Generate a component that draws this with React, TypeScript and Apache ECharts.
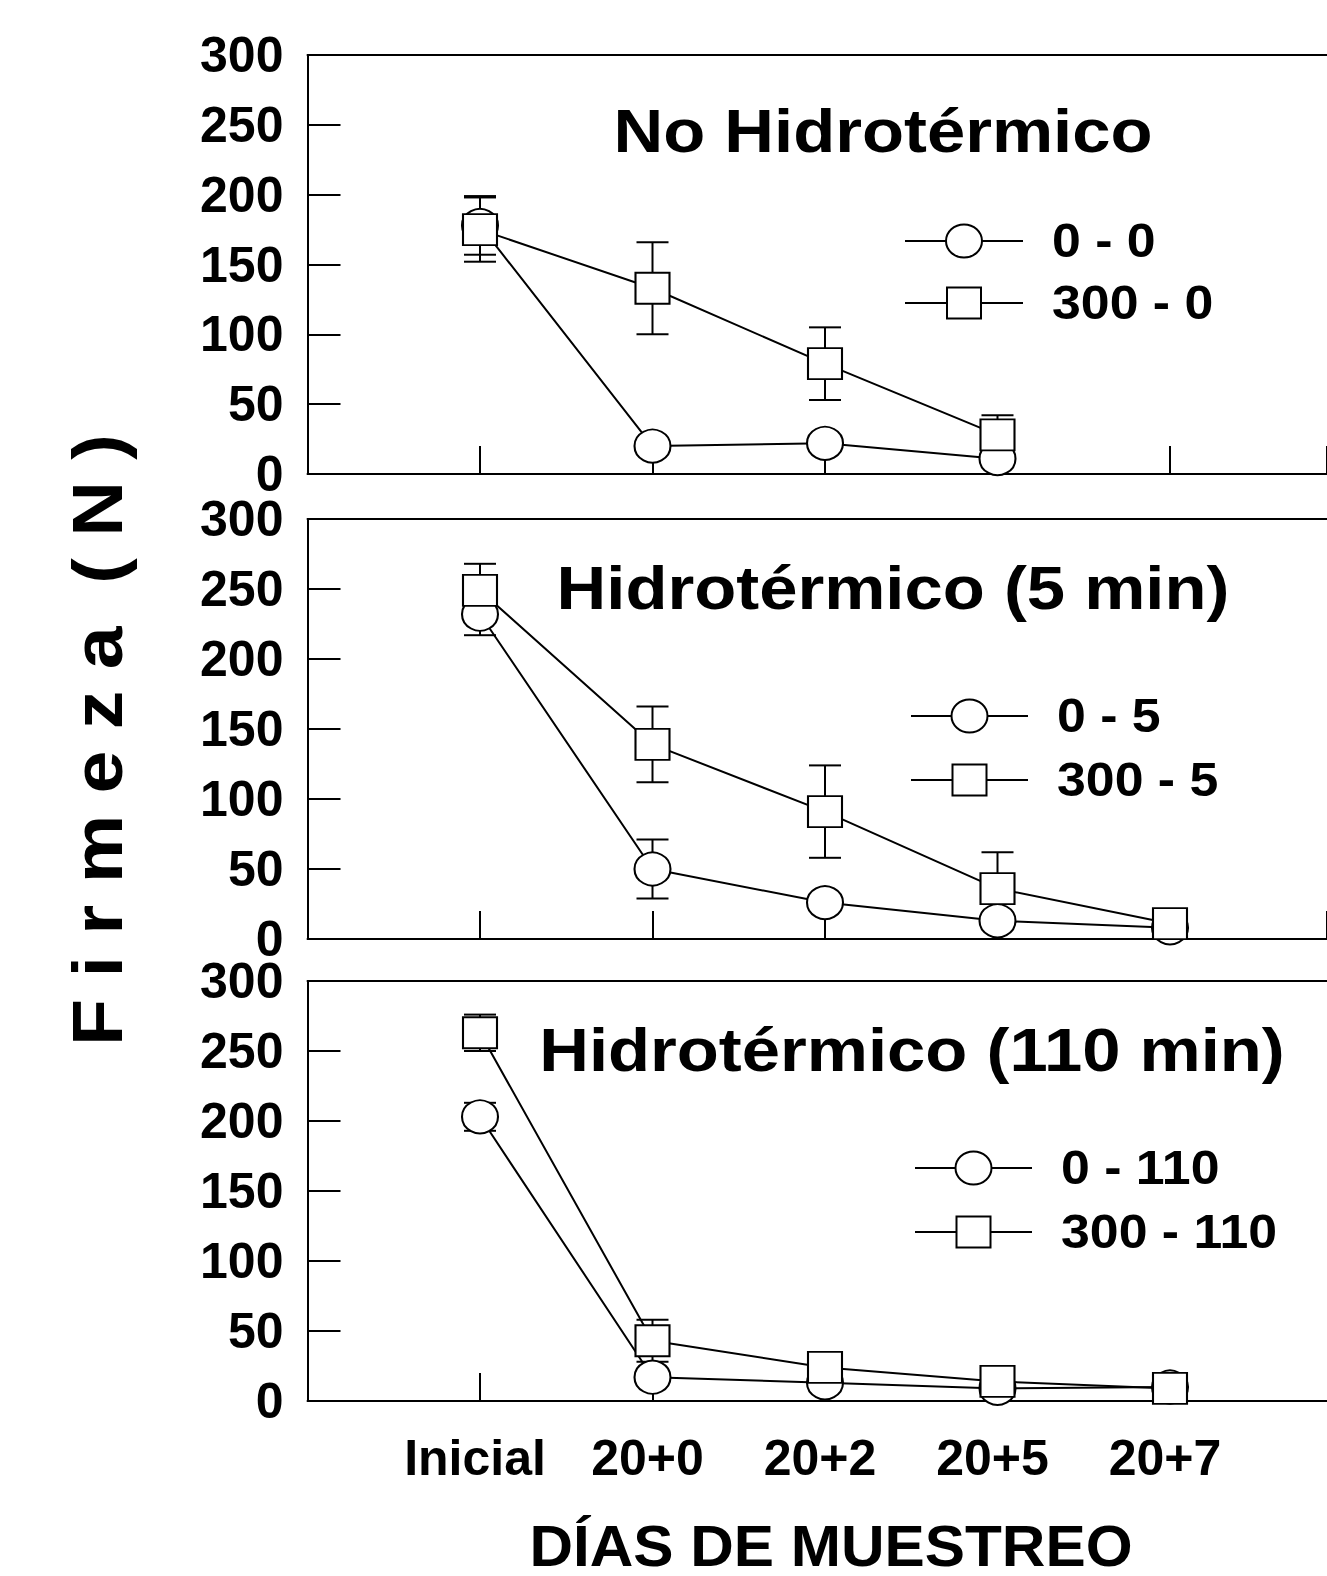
import React, { useEffect, useRef } from "react";
import * as echarts from "echarts";

// ---------- data ----------
const categories = ["Inicial", "20+0", "20+2", "20+5", "20+7"];
const panelTitles = ["No Hidrotérmico", "Hidrotérmico (5 min)", "Hidrotérmico (110 min)"];
const circleNames = ["0 - 0", "0 - 5", "0 - 110"];
const squareNames = ["300 - 0", "300 - 5", "300 - 110"];
const xAxisTitle = "DÍAS DE MUESTREO";
const yAxisTitle = "F i r m e z a  ( N )";
const yMin = 0;
const yMax = 300;
const yStep = 50;

// Panel 1: No Hidrotérmico
const p1Circle = [178, 20, 22, 11, null];
const p1CircleErr = [21, 3, 3, 3, null];
const p1Square = [175, 133, 79, 28, null];
const p1SquareErr = [23, 33, 26, 14, null];

// Panel 2: Hidrotérmico (5 min)
const p2Circle = [232, 50, 26, 13, 8];
const p2CircleErr = [15, 21, 5, 4, 2];
const p2Square = [249, 139, 91, 36, 11];
const p2SquareErr = [19, 27, 33, 26, 3];

// Panel 3: Hidrotérmico (110 min)
const p3Circle = [203, 17, 13, 9, 10];
const p3CircleErr = [10, 3, 3, 2, 2];
const p3Square = [263, 43, 24, 14, 9];
const p3SquareErr = [13, 15, 4, 3, 2];

const circleSeries = [p1Circle, p2Circle, p3Circle];
const circleErrs = [p1CircleErr, p2CircleErr, p3CircleErr];
const squareSeries = [p1Square, p2Square, p3Square];
const squareErrs = [p1SquareErr, p2SquareErr, p3SquareErr];

// ---------- layout / style ----------
const W = 1327;
const H = 1576;
const FONT = "'Liberation Sans', Arial, Helvetica, sans-serif";
const gridLeft = 307.5;
const catSpacing = 172.5;
const xMin = -1;
const xMax = xMin + (W - gridLeft) / catSpacing;
const panelTops = [55, 519, 981];
const panelHeights = [419, 420, 420];
const titlePos = [
  { x: 883, y: 131 },
  { x: 893, y: 588 },
  { x: 912, y: 1050 },
];
const titleScaleX = 1.11;
const legendPos = [
  { x1: 905, x2: 1023, y1: 241, y2: 303, tx: 1052 },
  { x1: 911, x2: 1028, y1: 716, y2: 780, tx: 1057 },
  { x1: 915, x2: 1032, y1: 1168, y2: 1232, tx: 1061 },
];
const legendScaleX = 1.08;
const circleSize: [number, number] = [36, 33];
const squareSize: [number, number] = [34, 31];

const pairs = (vals: (number | null)[]) =>
  vals.map((v, i) => (v == null ? null : [i, v])).filter((d) => d !== null);
const errTriples = (vals: (number | null)[], errs: (number | null)[]) =>
  vals
    .map((v, i) => (v == null ? null : [i, v, errs[i] as number]))
    .filter((d) => d !== null);

const errRender = (params: any, api: any) => {
  const x = api.value(0);
  const y = api.value(1);
  const e = api.value(2);
  const top = api.coord([x, y + e]);
  const bot = api.coord([x, y - e]);
  const hw = 16;
  const st = { stroke: "#000", lineWidth: 2 };
  return {
    type: "group",
    children: [
      { type: "line", shape: { x1: top[0], y1: top[1], x2: bot[0], y2: bot[1] }, style: st },
      { type: "line", shape: { x1: top[0] - hw, y1: top[1], x2: top[0] + hw, y2: top[1] }, style: st },
      { type: "line", shape: { x1: bot[0] - hw, y1: bot[1], x2: bot[0] + hw, y2: bot[1] }, style: st },
    ],
  };
};

export default function App() {
  const ref = useRef<HTMLDivElement>(null);
  useEffect(() => {
    if (!ref.current) return;
    const chart = echarts.init(ref.current, null, { renderer: "svg" });

    const grids = panelTops.map((t, i) => ({
      left: gridLeft,
      right: 0,
      top: t,
      height: panelHeights[i],
      show: false,
      containLabel: false,
    }));

    const xAxes: any[] = [];
    panelTops.forEach((_, i) => {
      xAxes.push({
        type: "value",
        gridIndex: i,
        position: "bottom",
        min: xMin,
        max: xMax,
        interval: 1,
        axisLine: { show: true, onZero: false, lineStyle: { color: "#000", width: 2 } },
        axisTick: { show: true, inside: true, length: 28, lineStyle: { color: "#000", width: 2 } },
        splitLine: { show: false },
        axisLabel: {
          show: i === 2,
          formatter: (v: number) => categories[Math.round(v)] ?? "",
          fontSize: 50,
          fontWeight: "bold",
          fontFamily: FONT,
          color: "#000",
          margin: 32,
          padding: [0, 10, 0, 0],
          showMinLabel: false,
          showMaxLabel: false,
        },
      });
      // top frame line
      xAxes.push({
        type: "value",
        gridIndex: i,
        position: "top",
        min: xMin,
        max: xMax,
        interval: 1,
        axisLine: { show: true, onZero: false, lineStyle: { color: "#000", width: 2 } },
        axisTick: { show: false },
        axisLabel: { show: false },
        splitLine: { show: false },
      });
    });

    const yAxes = panelTops.map((_, i) => ({
      type: "value",
      gridIndex: i,
      min: yMin,
      max: yMax,
      interval: yStep,
      axisLine: { show: true, onZero: false, lineStyle: { color: "#000", width: 2 } },
      axisTick: { show: true, inside: true, length: 33, lineStyle: { color: "#000", width: 2 } },
      splitLine: { show: false },
      axisLabel: {
        fontSize: 50,
        lineHeight: 40,
        fontWeight: "bold",
        fontFamily: FONT,
        color: "#000",
        margin: 24,
      },
    }));

    const series: any[] = [];
    for (let p = 0; p < 3; p++) {
      const xi = p * 2;
      series.push({
        type: "custom",
        xAxisIndex: xi,
        yAxisIndex: p,
        z: 1,
        renderItem: errRender,
        encode: { x: 0, y: 1 },
        data: errTriples(circleSeries[p], circleErrs[p]),
      });
      series.push({
        type: "custom",
        xAxisIndex: xi,
        yAxisIndex: p,
        z: 1,
        renderItem: errRender,
        encode: { x: 0, y: 1 },
        data: errTriples(squareSeries[p], squareErrs[p]),
      });
      series.push({
        type: "line",
        name: circleNames[p],
        xAxisIndex: xi,
        yAxisIndex: p,
        z: 2,
        symbol: "circle",
        symbolSize: circleSize,
        showSymbol: true,
        clip: false,
        itemStyle: { color: "#fff", borderColor: "#000", borderWidth: 2 },
        lineStyle: { color: "#000", width: 2 },
        data: pairs(circleSeries[p]),
      });
      series.push({
        type: "line",
        name: squareNames[p],
        xAxisIndex: xi,
        yAxisIndex: p,
        z: 3,
        symbol: "rect",
        symbolSize: squareSize,
        showSymbol: true,
        clip: false,
        itemStyle: { color: "#fff", borderColor: "#000", borderWidth: 2 },
        lineStyle: { color: "#000", width: 2 },
        data: pairs(squareSeries[p]),
      });
    }

    const textStyle = (text: string, size: number, align = "center") => ({
      text,
      fontSize: size,
      fontWeight: "bold",
      fontFamily: FONT,
      fill: "#000",
      textAlign: align,
      textVerticalAlign: "middle",
      align,
      verticalAlign: "middle",
    });

    const graphics: any[] = [];
    for (let p = 0; p < 3; p++) {
      const t = titlePos[p];
      graphics.push({
        type: "text",
        x: t.x,
        y: t.y,
        scaleX: titleScaleX,
        z: 10,
        style: textStyle(panelTitles[p], 62),
      });
      const L = legendPos[p];
      const cx = (L.x1 + L.x2) / 2;
      graphics.push({
        type: "line",
        z: 10,
        shape: { x1: L.x1, y1: L.y1, x2: L.x2, y2: L.y1 },
        style: { stroke: "#000", lineWidth: 2 },
      });
      graphics.push({
        type: "ellipse",
        z: 11,
        shape: { cx, cy: L.y1, rx: circleSize[0] / 2, ry: circleSize[1] / 2 },
        style: { fill: "#fff", stroke: "#000", lineWidth: 2 },
      });
      graphics.push({
        type: "line",
        z: 10,
        shape: { x1: L.x1, y1: L.y2, x2: L.x2, y2: L.y2 },
        style: { stroke: "#000", lineWidth: 2 },
      });
      graphics.push({
        type: "rect",
        z: 11,
        shape: {
          x: cx - squareSize[0] / 2,
          y: L.y2 - squareSize[1] / 2,
          width: squareSize[0],
          height: squareSize[1],
        },
        style: { fill: "#fff", stroke: "#000", lineWidth: 2 },
      });
      graphics.push({
        type: "text",
        x: L.tx,
        y: L.y1,
        scaleX: legendScaleX,
        z: 10,
        style: textStyle(circleNames[p], 48, "left"),
      });
      graphics.push({
        type: "text",
        x: L.tx,
        y: L.y2,
        scaleX: legendScaleX,
        z: 10,
        style: textStyle(squareNames[p], 48, "left"),
      });
    }
    graphics.push({
      type: "text",
      x: 831,
      y: 1546,
      scaleX: 1.04,
      z: 10,
      style: textStyle(xAxisTitle, 58),
    });
    graphics.push({
      type: "text",
      x: 98,
      y: 740,
      rotation: Math.PI / 2,
      scaleX: 1.1,
      z: 10,
      style: textStyle(yAxisTitle, 70),
    });

    chart.setOption({
      animation: false,
      backgroundColor: "#fff",
      grid: grids,
      xAxis: xAxes,
      yAxis: yAxes,
      series,
      graphic: graphics,
    });
    return () => chart.dispose();
  }, []);

  return (
    <div
      ref={ref}
      style={{ position: "absolute", left: 0, top: 0, width: W, height: H, background: "#fff" }}
    />
  );
}
